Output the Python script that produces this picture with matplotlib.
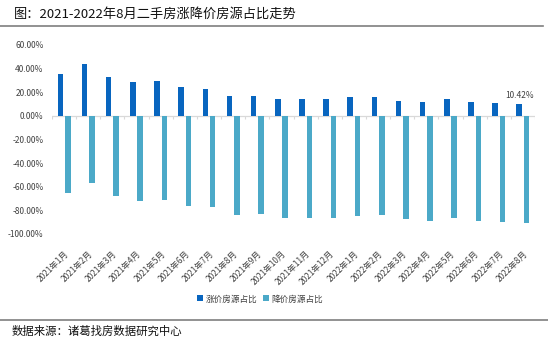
import numpy as np
import matplotlib
matplotlib.use("Agg")
import matplotlib.pyplot as plt
from matplotlib.lines import Line2D

plt.rcParams['font.family'] = ['Noto Sans CJK SC', 'DejaVu Sans']

months = ['2021年1月', '2021年2月', '2021年3月', '2021年4月', '2021年5月', '2021年6月',
          '2021年7月', '2021年8月', '2021年9月', '2021年10月', '2021年11月', '2021年12月',
          '2022年1月', '2022年2月', '2022年3月', '2022年4月', '2022年5月', '2022年6月',
          '2022年7月', '2022年8月']
rise = [35.8, 43.5, 33.0, 28.8, 29.6, 24.5, 22.9, 16.6, 17.2, 14.1, 14.1, 14.7,
        16.1, 16.1, 12.7, 11.6, 14.1, 11.6, 11.0, 10.42]
fall = [-65.0, -56.5, -67.5, -71.8, -71.2, -76.3, -76.8, -84.0, -83.3, -86.7, -86.7, -86.1,
        -84.5, -84.0, -87.6, -88.7, -86.4, -89.3, -89.8, -90.4]

c_rise = '#0865bf'
c_fall = '#4ba9c8'
grey = '#d9d9d9'
txt = '#404040'

fig = plt.figure(figsize=(5.48, 3.48), dpi=100)
ax = fig.add_axes([0.0949, 0.3276, 0.8814, 0.5431])

x = np.arange(len(months))
w = 0.23
ax.bar(x - 0.153, rise, w, color=c_rise, label='涨价房源占比')
ax.bar(x + 0.153, fall, w, color=c_fall, label='降价房源占比')

ax.axhline(0, color=grey, lw=0.9, zorder=0)
ax.vlines(np.arange(-0.5, len(months)), -2.5, 0, color=grey, lw=0.8, zorder=0)

ax.text(x[-1] - 0.153, rise[-1] + 3, f'{rise[-1]:.2f}%', ha='center', va='bottom',
        fontsize=6, color=txt)

ax.set_xlim(-0.5, len(months) - 0.5)
ax.set_ylim(-100, 60)
ax.set_yticks(np.arange(-100, 61, 20))
ax.set_yticklabels([f'{v:.2f}%' for v in np.arange(-100, 61, 20)], fontsize=6, color=txt)
ax.set_xticks(x)
ax.set_xticklabels(months, rotation=45, ha='right', rotation_mode='anchor', fontsize=6, color=txt)
ax.tick_params(axis='both', length=0)
ax.tick_params(axis='x', pad=11)
ax.tick_params(axis='y', pad=6)
for s in ax.spines.values():
    s.set_visible(False)

fig.legend(loc='center', bbox_to_anchor=(0.475, 0.141), ncol=2, frameon=False,
           fontsize=6.2, handlelength=0.7, handleheight=0.7, handletextpad=0.3,
           columnspacing=0.6, labelcolor=txt)

fig.text(0.026, 0.958, '图：2021-2022年8月二手房涨降价房源占比走势', fontsize=9.5,
         va='center', ha='left', color='#111111')
fig.text(0.022, 0.049, '数据来源：诸葛找房数据研究中心', fontsize=8.2,
         va='center', ha='left', color='#111111')
fig.add_artist(Line2D([0, 0.99], [0.926, 0.926], color='#7f7f7f', lw=1.2))
fig.add_artist(Line2D([0, 1], [0.080, 0.080], color='#7f7f7f', lw=1.2))

fig.savefig('out.png', dpi=100, facecolor='white')
